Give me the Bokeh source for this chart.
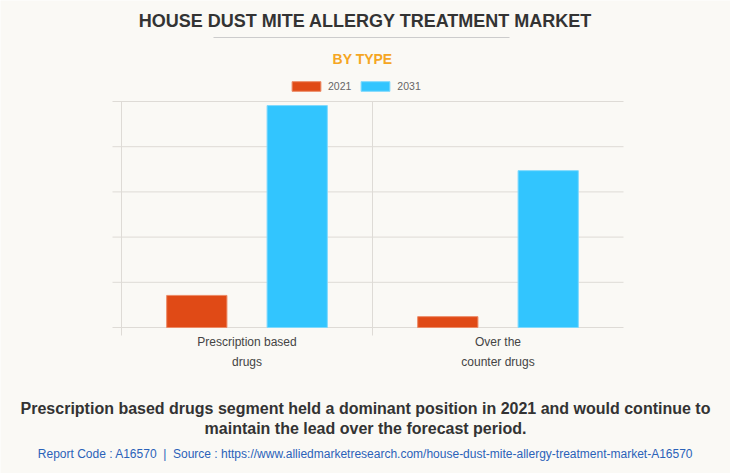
from bokeh.plotting import figure
from bokeh.models import (ColumnDataSource, Range1d, Label, Legend, LegendItem, BoxAnnotation)
from bokeh.core.properties import value
from bokeh.transform import dodge
from bokeh.embed import file_html
from bokeh.resources import INLINE

# ---- data ----
categories = ["Prescription based\ndrugs", "Over the\ncounter drugs"]
years = ["2021", "2031"]
values_2021 = [0.71, 0.24]
values_2031 = [4.91, 3.47]
y_ticks = [0, 1, 2, 3, 4, 5]

title_text = "HOUSE DUST MITE ALLERGY TREATMENT MARKET"
subtitle_text = "BY TYPE"
caption_1 = "Prescription based drugs segment held a dominant position in 2021 and would continue to"
caption_2 = "maintain the lead over the forecast period."
source_text = "Report Code : A16570\u00a0 |\u00a0 Source : https://www.alliedmarketresearch.com/house-dust-mite-allergy-treatment-market-A16570"

BG = "#faf9f5"
GRID = "#dedbd6"
C2021 = "#e04a16"
C2031 = "#32c5fe"
FONT = "Liberation Sans"

# ---- layout (pixels on the canvas) ----
W, H = 730, 473
PX_L, PX_R = 121, 623      # value-axis x=0 and x=n
PX_T, PX_B = 101, 327      # value 5 and value 0
TICK = 9                   # gridline overhang left / below
n = len(categories)
ymax = y_ticks[-1]
ux = (PX_R - PX_L) / n
uy = (PX_B - PX_T) / ymax

xs = [i + 0.5 for i in range(n)]
src = ColumnDataSource(dict(x=xs, v2021=values_2021, v2031=values_2031, cat=categories))

p = figure(width=W, height=H, output_backend="svg", toolbar_location=None,
           x_range=Range1d(-PX_L / ux, n + (W - PX_R) / ux),
           y_range=Range1d(-(H - PX_B) / uy, ymax + PX_T / uy),
           x_axis_type=None, y_axis_type=None, min_border=0,
           background_fill_color=BG, border_fill_color=BG, outline_line_color=None)
p.xgrid.visible = False
p.ygrid.visible = False

# grid lines (horizontal at value ticks, vertical at category boundaries)
p.segment(x0=[-TICK / ux] * len(y_ticks), x1=[n] * len(y_ticks), y0=y_ticks, y1=y_ticks,
          line_color=GRID, line_width=1)
p.segment(x0=list(range(n)), x1=list(range(n)), y0=[-8 / uy] * n, y1=[ymax] * n,
          line_color=GRID, line_width=1)

r1 = p.vbar(x=dodge("x", -0.2), top="v2021", width=0.24, source=src,
            fill_color=C2021, line_color="#ec8a66", line_width=1)
r2 = p.vbar(x=dodge("x", 0.2), top="v2031", width=0.24, source=src,
            fill_color=C2031, line_color="#7fd9fd", line_width=1)

# category labels
p.text(x="x", y=0, text="cat", source=src, y_offset=7, text_align="center",
       text_baseline="top", text_font=value(FONT), text_font_size="12px",
       text_color="#444444", text_line_height=1.45)

def lab(text, x, y, size, color, style="normal"):
    p.add_layout(Label(x=x, y=H - y, x_units="screen", y_units="screen", text=text,
                       text_font=FONT, text_font_size=size, text_color=color,
                       text_font_style=style, text_align="center", text_baseline="middle"))

lab(title_text, 365, 20, "18px", "#333333", "bold")
lab(subtitle_text, 362, 58, "14px", "#f5a623", "bold")
lab(caption_1, 365, 408, "16px", "#333333", "bold")
lab(caption_2, 365, 428, "16px", "#333333", "bold")
lab(source_text, 365, 453, "12px", "#2a62b9")

p.add_layout(BoxAnnotation(left=213, right=509, top=H - 36.5, bottom=H - 37.5,
                           left_units="screen", right_units="screen",
                           top_units="screen", bottom_units="screen",
                           fill_color="#cccccc", fill_alpha=1, line_color=None))

legend = Legend(items=[LegendItem(label=years[0], renderers=[r1]),
                       LegendItem(label=years[1], renderers=[r2])],
                orientation="horizontal", location=(288, H - 92),
                glyph_width=36, glyph_height=12, label_standoff=4, spacing=6,
                padding=0, margin=0, border_line_color=None, background_fill_alpha=0,
                label_text_font=FONT, label_text_font_size="10.5px", label_text_color="#666666",
                label_height=12)
p.add_layout(legend, "center")

open("out.html", "w").write(file_html(p, INLINE))
